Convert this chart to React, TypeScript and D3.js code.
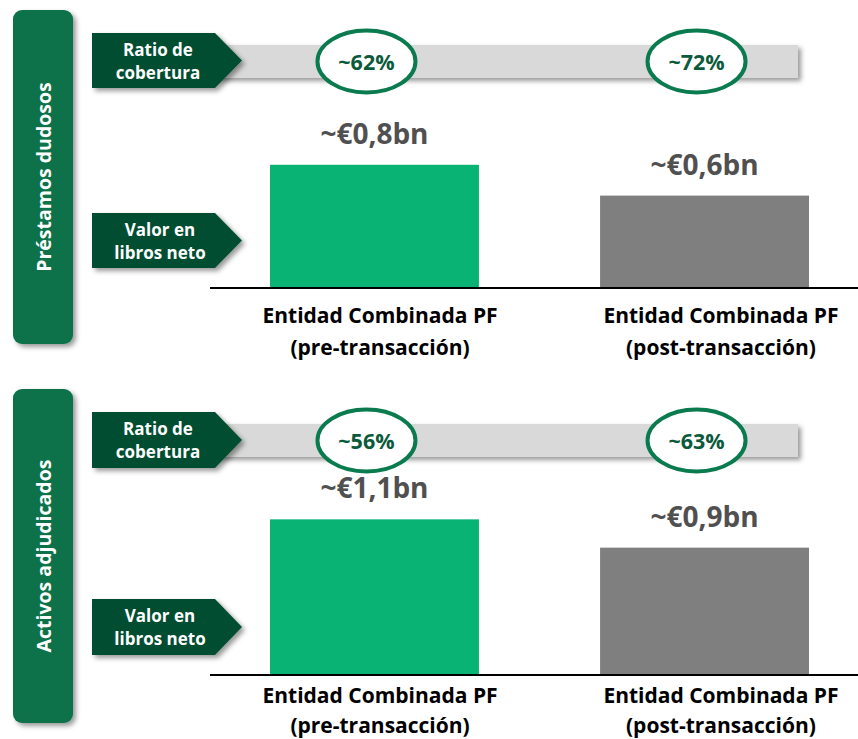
import React from "react";
import * as d3 from "d3";

const panelTitles = ["Préstamos dudosos", "Activos adjudicados"];
const categoryLine1 = ["Entidad Combinada PF", "Entidad Combinada PF"];
const categoryLine2 = ["(pre-transacción)", "(post-transacción)"];
const prestamosValues = [0.8, 0.6];
const activosValues = [1.1, 0.9];
const prestamosLabels = ["~€0,8bn", "~€0,6bn"];
const activosLabels = ["~€1,1bn", "~€0,9bn"];
const prestamosCoverage = ["~62%", "~72%"];
const activosCoverage = ["~56%", "~63%"];
const ratioLabel = ["Ratio de", "cobertura"];
const valorLabel = ["Valor en", "libros neto"];

const W = 858;
const H = 739;
const FONT = "'Open Sans', Lato, sans-serif";
const GREEN_BAR = "#08B374";
const GRAY_BAR = "#7F7F7F";
const DARK_GREEN = "#054E31";
const PANEL_GREEN = "#08714A";
const OVAL_GREEN = "#0A7A4F";

const layouts = [
  { top: 10, bottom: 344, ratioTop: 33, ratioBottom: 88, grayTop: 45, grayBottom: 78, valorTop: 213, valorBottom: 268, axis: 288, pxPerUnit: 154, lab1: 323, lab2: 355 },
  { top: 389, bottom: 723, ratioTop: 412, ratioBottom: 468, grayTop: 424, grayBottom: 457, valorTop: 599, valorBottom: 655, axis: 675, pxPerUnit: 141.5, lab1: 703, lab2: 733 },
];

const values = [prestamosValues, activosValues];
const valueLabels = [prestamosLabels, activosLabels];
const coverage = [prestamosCoverage, activosCoverage];

const x = d3.scaleBand<number>().domain([0, 1]).range([270, 809]).paddingInner(0.367).paddingOuter(0);
const xLab = d3.scaleBand<number>().domain([0, 1]).range([258, 843]).paddingInner(0.284).paddingOuter(0);

function arrowPath(x0: number, y0: number, y1: number, bodyRight: number, tip: number) {
  const p = d3.path();
  p.moveTo(x0, y0);
  p.lineTo(bodyRight, y0);
  p.lineTo(tip, (y0 + y1) / 2);
  p.lineTo(bodyRight, y1);
  p.lineTo(x0, y1);
  p.closePath();
  return p.toString();
}

function Panel({ idx }: { idx: number }) {
  const L = layouts[idx];
  const y = d3.scaleLinear().domain([0, 1]).range([L.axis, L.axis - L.pxPerUnit]);
  const ovalCy = (L.grayTop + L.grayBottom) / 2;
  const panelCy = (L.top + L.bottom) / 2;
  const ratioCy = (L.ratioTop + L.ratioBottom) / 2;
  const valorCy = (L.valorTop + L.valorBottom) / 2;
  return (
    <g>
      <rect x={13} y={L.top} width={60} height={L.bottom - L.top} rx={9} fill={PANEL_GREEN} filter="url(#shadow)" />
      <text
        transform={`translate(51,${panelCy}) rotate(-90)`}
        textAnchor="middle"
        fill="#fff"
        fontFamily={FONT}
        fontWeight={700}
        fontSize={19.5}
      >
        {panelTitles[idx]}
      </text>
      <rect x={215} y={L.grayTop} width={583} height={L.grayBottom - L.grayTop} fill="#D9D9D9" filter="url(#shadow)" />
      <path d={arrowPath(92, L.ratioTop, L.ratioBottom, 215, 242)} fill={DARK_GREEN} filter="url(#shadow)" />
      <text textAnchor="middle" fill="#fff" fontFamily={FONT} fontWeight={700} fontSize={17}>
        {ratioLabel.map((t, i) => (
          <tspan key={i} x={158} y={ratioCy - 5 + i * 23.4}>
            {t}
          </tspan>
        ))}
      </text>
      <path d={arrowPath(92, L.valorTop, L.valorBottom, 215, 242)} fill={DARK_GREEN} filter="url(#shadow)" />
      <text textAnchor="middle" fill="#fff" fontFamily={FONT} fontWeight={700} fontSize={17}>
        {valorLabel.map((t, i) => (
          <tspan key={i} x={160} y={valorCy - 5 + i * 23.4}>
            {t}
          </tspan>
        ))}
      </text>
      {coverage[idx].map((c, i) => {
        const cx = (x(i) as number) + x.bandwidth() / 2 - 8;
        return (
          <g key={i}>
            <ellipse cx={cx} cy={ovalCy} rx={49} ry={31} fill="#fff" stroke={OVAL_GREEN} strokeWidth={4} />
            <text x={cx} y={ovalCy + 8} textAnchor="middle" fill="#0B5A3B" fontFamily={FONT} fontWeight={700} fontSize={21.5}>
              {c}
            </text>
          </g>
        );
      })}
      {values[idx].map((v, i) => (
        <g key={i}>
          <rect
            x={x(i) as number}
            y={y(v)}
            width={x.bandwidth()}
            height={L.axis - y(v)}
            fill={i === 0 ? GREEN_BAR : GRAY_BAR}
          />
          <text
            x={(x(i) as number) + x.bandwidth() / 2}
            y={y(v) - 21}
            textAnchor="middle"
            fill="#505050"
            fontFamily={FONT}
            fontWeight={700}
            fontSize={28}
          >
            {valueLabels[idx][i]}
          </text>
        </g>
      ))}
      <line x1={210} x2={W} y1={L.axis} y2={L.axis} stroke="#000" strokeWidth={2} />
      {categoryLine1.map((t, i) => (
        <text key={i} textAnchor="middle" fill="#000" fontFamily={FONT} fontWeight={700} fontSize={21}>
          <tspan x={(xLab(i) as number) + xLab.bandwidth() / 2} y={L.lab1}>
            {t}
          </tspan>
          <tspan x={(xLab(i) as number) + xLab.bandwidth() / 2} y={L.lab2}>
            {categoryLine2[i]}
          </tspan>
        </text>
      ))}
    </g>
  );
}

export default function App() {
  return (
    <svg width={W} height={H} style={{ position: "absolute", left: 0, top: 0, background: "#fff" }}>
      <defs>
        <filter id="shadow" x="-10%" y="-10%" width="130%" height="140%">
          <feDropShadow dx={3} dy={3} stdDeviation={2.5} floodColor="#000" floodOpacity={0.4} />
        </filter>
      </defs>
      <rect width={W} height={H} fill="#fff" />
      <Panel idx={0} />
      <Panel idx={1} />
    </svg>
  );
}
